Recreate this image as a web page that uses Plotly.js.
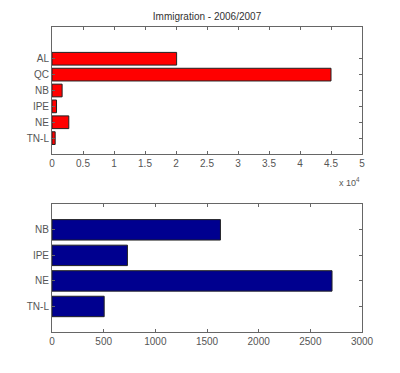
<!DOCTYPE html>
<html><head><meta charset="utf-8">
<script src="https://cdn.plot.ly/plotly-3.0.1.min.js"></script>
<style>html,body{margin:0;padding:0;background:#fff}#chart{width:400px;height:373px}</style>
</head><body><div id="chart"></div>
<script>
// Top chart (2006/2007 immigration)
var topCategories = ["AL", "QC", "NB", "IPE", "NE", "TN-L"];
var topValues = [20100, 45000, 1630, 730, 2710, 510];
var topTickVals = [0, 5000, 10000, 15000, 20000, 25000, 30000, 35000, 40000, 45000, 50000];
var topTickText = ["0", "0.5", "1", "1.5", "2", "2.5", "3", "3.5", "4", "4.5", "5"];
// Bottom chart (Atlantic provinces)
var botCategories = ["NB", "IPE", "NE", "TN-L"];
var botValues = [1630, 730, 2710, 505];
var botTickVals = [0, 500, 1000, 1500, 2000, 2500, 3000];

var titleText = "Immigration - 2006/2007";

function pos(arr) { return arr.map(function (_, i) { return arr.length - i; }); }

var fontFam = "Liberation Sans, Arial, sans-serif";
var gray = "#555";

var traces = [
  { type: "bar", orientation: "h", x: topValues, y: pos(topCategories), width: 0.8,
    marker: { color: "#ff0000", line: { color: "#222", width: 1 } },
    xaxis: "x", yaxis: "y", hoverinfo: "skip" },
  { type: "bar", orientation: "h", x: botValues, y: pos(botCategories), width: 0.8,
    marker: { color: "#00008f", line: { color: "#222", width: 1 } },
    xaxis: "x2", yaxis: "y2", hoverinfo: "skip" }
];

var axCommon = {
  showline: true, linecolor: "#666", linewidth: 1, mirror: "ticks",
  ticks: "inside", ticklen: 3, tickcolor: "#666", showgrid: false, zeroline: false,
  tickfont: { family: fontFam, size: 10, color: gray }, fixedrange: true
};

var layout = {
  width: 400, height: 373,
  margin: { l: 52, r: 38, t: 27, b: 41 },
  paper_bgcolor: "#fff", plot_bgcolor: "#fff",
  showlegend: false,
  title: { text: titleText, font: { family: fontFam, size: 10, color: "#333" },
           x: 0.5175, xanchor: "center", y: 0.955, yanchor: "middle" },
  xaxis: Object.assign({}, axCommon, { domain: [0, 1], anchor: "y", range: [0, 50000],
           tickmode: "array", tickvals: topTickVals, ticktext: topTickText }),
  yaxis: Object.assign({}, axCommon, { domain: [0.5836, 1], anchor: "x", range: [0, 8],
           tickmode: "array", tickvals: pos(topCategories), ticktext: topCategories }),
  xaxis2: Object.assign({}, axCommon, { domain: [0, 1], anchor: "y2", range: [0, 3000],
           tickmode: "array", tickvals: botTickVals, ticktext: botTickVals.map(String) }),
  yaxis2: Object.assign({}, axCommon, { domain: [0, 0.4187], anchor: "x2", range: [0, 5],
           tickmode: "array", tickvals: pos(botCategories), ticktext: botCategories }),
  annotations: [
    { text: "x 10<sup>4</sup>", xref: "paper", yref: "paper", x: 1, y: 0.5836,
      xanchor: "right", yanchor: "top", yshift: -20, showarrow: false,
      font: { family: fontFam, size: 9, color: gray } }
  ]
};

Plotly.newPlot("chart", traces, layout, { staticPlot: true, displayModeBar: false });
</script>
</body></html>
